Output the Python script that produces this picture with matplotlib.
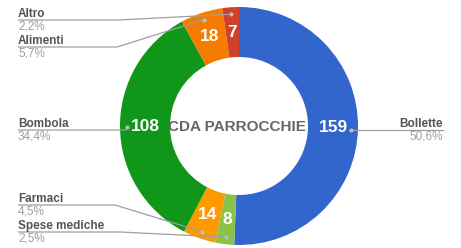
import numpy as np
import matplotlib
matplotlib.use("Agg")
import matplotlib.pyplot as plt

plt.rcParams['font.family'] = ['Liberation Sans', 'DejaVu Sans']

labels = ["Bollette", "Spese mediche", "Farmaci", "Bombola", "Alimenti", "Altro"]
values = [159, 8, 14, 108, 18, 7]
pct_text = ["50,6%", "2,5%", "4,5%", "34,4%", "5,7%", "2,2%"]
colors = ["#3366cc", "#8bc34a", "#ff9900", "#109618", "#f57c00", "#d0402a"]

W, H = 461, 248
fig = plt.figure(figsize=(W / 100, H / 100), dpi=100)
ax = fig.add_axes([0, 0, 1, 1])

cx, cy, R = 239, H - 126, 119
ring = 50

wedges, _ = ax.pie(values, colors=colors, startangle=90, counterclock=False,
                   center=(cx, cy), radius=R,
                   wedgeprops=dict(width=ring, edgecolor="none"))
ax.set_xlim(0, W)
ax.set_ylim(0, H)
ax.set_aspect("equal")
ax.axis("off")

# value labels inside ring
for w, v in zip(wedges, values):
    mid = np.deg2rad((w.theta1 + w.theta2) / 2)
    rr = R - ring / 2
    ax.text(cx + rr * np.cos(mid), cy + rr * np.sin(mid), str(v),
            color="white", fontsize=12.5, fontweight="bold",
            ha="center", va="center")

ax.text(cx - 2, cy - 1, "CDA PARROCCHIE", color="#666666", fontsize=11,
        fontweight="bold", ha="center", va="center")

# outer labels: (line y in pixels from top, side, elbow x)
layout = {
    "Altro": (20, "left", 118),
    "Alimenti": (47, "left", 117),
    "Bombola": (130, "left", 126),
    "Farmaci": (205, "left", 115),
    "Spese mediche": (232, "left", 120),
    "Bollette": (130, "right", 352),
}
ar = 112
fs = 8.5

for w, lab, pt in zip(wedges, labels, pct_text):
    ly, side, ex = layout[lab]
    ly = H - ly
    mid = np.deg2rad((w.theta1 + w.theta2) / 2)
    axp, ayp = cx + ar * np.cos(mid), cy + ar * np.sin(mid)
    if side == "left":
        x0 = 18
        ax.plot([x0, ex, axp], [ly, ly, ayp], color="#9e9e9e", lw=0.9,
                solid_capstyle="butt")
        ax.plot([axp], [ayp], "o", ms=2, color="#bdbdbd")
        ax.text(x0, ly + 0.3, lab, color="#555555", fontsize=fs,
                fontweight="bold", ha="left", va="bottom")
        ax.text(x0, ly - 0.3, pt, color="#9e9e9e", fontsize=fs,
                ha="left", va="top")
    else:
        x1 = 443
        ax.plot([axp, x1], [ly, ly], color="#9e9e9e", lw=0.9)
        ax.plot([axp], [ly], "o", ms=2, color="#bdbdbd")
        ax.text(x1, ly + 0.3, lab, color="#555555", fontsize=fs,
                fontweight="bold", ha="right", va="bottom")
        ax.text(x1, ly - 0.3, pt, color="#9e9e9e", fontsize=fs,
                ha="right", va="top")

fig.savefig("out.png", dpi=100)
